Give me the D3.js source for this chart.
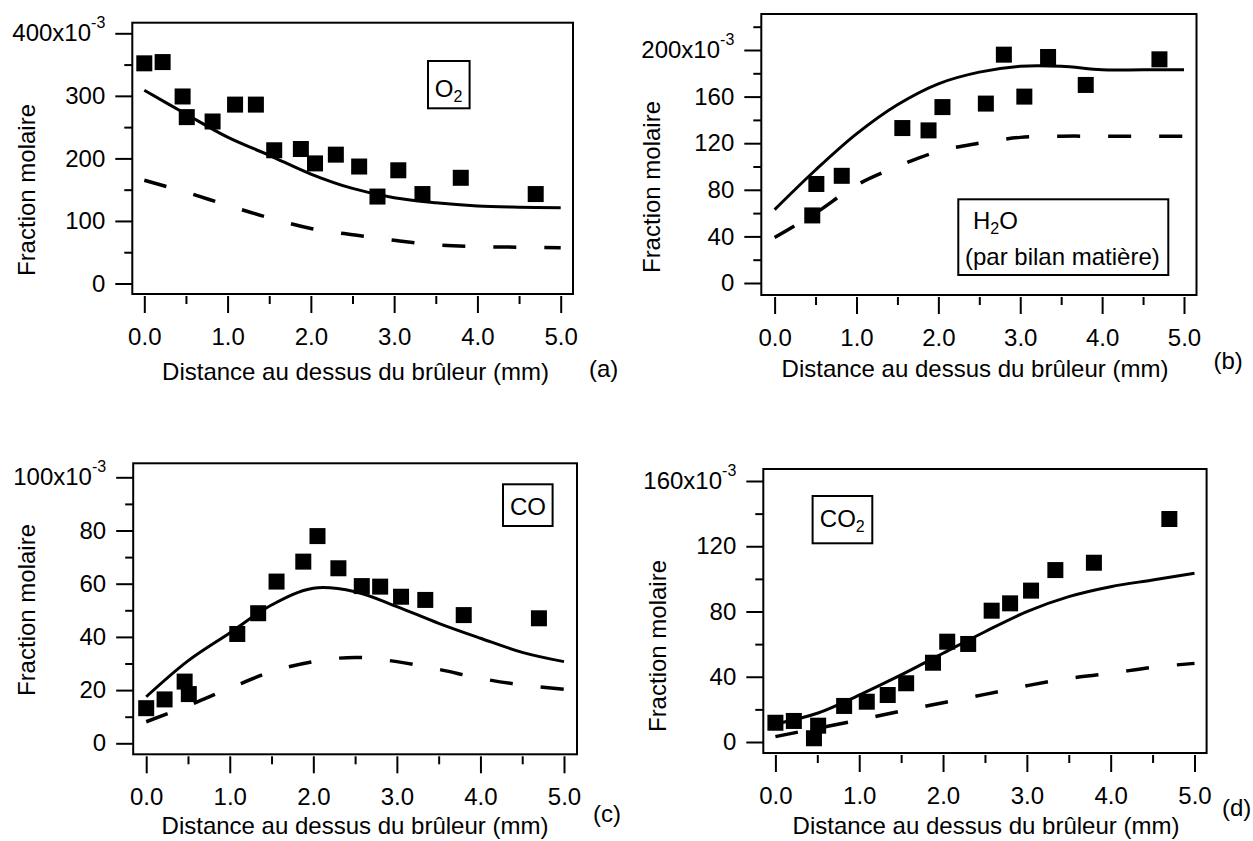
<!DOCTYPE html>
<html>
<head>
<meta charset="utf-8">
<script src="https://cdn.jsdelivr.net/npm/d3@7"></script>
<style>
  html, body { margin: 0; padding: 0; background: #fff; }
  svg text { font-family: "Liberation Sans", Arial, sans-serif; fill: #000; }
</style>
</head>
<body>
<div id="chart"></div>
<script>
// measured positions (mm above burner), shared by the four panels
const distance = [0, 0.22, 0.46, 0.51, 0.82, 1.09, 1.34, 1.56, 1.88, 2.05, 2.30, 2.58, 2.80, 3.05, 3.34, 3.80, 4.70];

// measured mole fractions (x10^-3), null = no point
const o2Measured  = [352, 354, 299, 266, 259, 286, 286, 213, 215, 192, 206, 187, 139, 181, 143, 169, 143];
const h2oMeasured = [null, null, 58, 85, 92, null, null, 133, 131, 151, null, 154, 196, 160, 194, 170, 192];
const coMeasured  = [13.2, 16.5, 23.2, 18.5, null, 41.1, 48.9, 60.8, 68.3, 77.9, 65.8, 59.1, 58.9, 55.1, 53.9, 48.2, 47.0];
const co2Measured = [11.8, 12.9, 2.3, 10.0, 22.1, 24.7, 28.8, 36.0, 48.6, 61.5, 60.1, 80.5, 85.0, 92.8, 105.4, 109.9, 136.7];

// model curves, read at these distances
const modelDistance = [0, 0.5, 1, 1.5, 2, 2.5, 3, 3.5, 4, 4.5, 5];
const o2Solid   = [309, 271, 234, 205, 175, 152, 137, 129, 124, 122, 121];
const o2Dashed  = [165, 146, 125, 105, 88, 78, 69, 62, 59, 58, 57];
const h2oSolid  = [63, 97, 128, 153, 171, 181, 186, 186, 183, 183, 183];
const h2oDashed = [39, 60, 84, 100, 113, 120, 125, 126, 126, 126, 126];
const coSolid   = [17.5, 31, 41.5, 52, 58.3, 57, 51.4, 45.1, 39.5, 34.2, 30.7];
const coDashed  = [8.1, 14.1, 20.7, 26.9, 30.7, 32.3, 30.7, 27.8, 24.4, 21.9, 20.3];
const co2Solid  = [11, 17.6, 28.8, 41.1, 54.4, 67.6, 79.9, 89.1, 95.2, 99.3, 103.4];
const co2Dashed = [3.3, 8.4, 13.5, 19, 24.1, 29.2, 34.5, 39, 42.1, 45.8, 48.2];

// axis ticks
const xTicks = [0, 1, 2, 3, 4, 5];
const xMinorTicks = [0.5, 1.5, 2.5, 3.5, 4.5];
const o2Ticks  = [0, 100, 200, 300, 400];
const h2oTicks = [0, 40, 80, 120, 160, 200];
const coTicks  = [0, 20, 40, 60, 80, 100];
const co2Ticks = [0, 40, 80, 120, 160];

const xTitle = "Distance au dessus du brûleur (mm)";
const yTitle = "Fraction molaire";

const width = 1253, height = 841;
const svg = d3.select("#chart").append("svg")
    .attr("width", width).attr("height", height);

const panels = [
  { frame: {l: 132.3, r: 573, t: 22.7, b: 294}, xr: [144.3, 560.7], yr: [283.5, 33.3], ymax: 400,
    ticks: o2Ticks, minor: 50, points: o2Measured, solid: o2Solid, dashed: o2Dashed,
    yTitlePos: [35, 190], xTitlePos: [355.5, 380], tag: ["(a)", 589, 377],
    legend: {x: 428, y: 61, w: 41.6, h: 47.3, lines: [[["O"], ["2", "sub"]]], tx: 434.8, ty: [96.7]} },
  { frame: {l: 761.3, r: 1196.5, t: 14, b: 295}, xr: [774.6, 1184], yr: [283, 50], ymax: 200,
    ticks: h2oTicks, minor: 20, points: h2oMeasured, solid: h2oSolid, dashed: h2oDashed,
    yTitlePos: [660, 187], xTitlePos: [975, 377], tag: ["(b)", 1213.5, 369],
    legend: {x: 958.3, y: 199.3, w: 210, h: 75.7,
      lines: [[["H"], ["2", "sub"], ["O"]], [["(par bilan matière)"]]], tx: [973, 965], ty: [229, 265]} },
  { frame: {l: 133.2, r: 577, t: 463.3, b: 754.3}, xr: [146.2, 564], yr: [743.3, 477.3], ymax: 100,
    ticks: coTicks, minor: 10, points: coMeasured, solid: coSolid, dashed: coDashed,
    yTitlePos: [35, 610], xTitlePos: [355, 834], tag: ["(c)", 593, 822],
    legend: {x: 503, y: 484.3, w: 49.6, h: 41.7, lines: [[["CO"]]], tx: 510, ty: [515]} },
  { frame: {l: 763.3, r: 1206.6, t: 469, b: 753}, xr: [775.4, 1194.5], yr: [742, 481], ymax: 160,
    ticks: co2Ticks, minor: 20, points: co2Measured, solid: co2Solid, dashed: co2Dashed,
    yTitlePos: [666, 646], xTitlePos: [986, 834], tag: ["(d)", 1222, 816],
    legend: {x: 812.6, y: 496, w: 59.7, h: 47.3, lines: [[["CO"], ["2", "sub"]]], tx: 819.8, ty: [526.7]} }
];

function drawPanel(p) {
  const g = svg.append("g");
  const x = d3.scaleLinear().domain([0, 5]).range(p.xr);
  const y = d3.scaleLinear().domain([0, p.ymax]).range(p.yr);

  // model curves
  const line = d3.line()
      .defined(d => d[1] != null)
      .curve(d3.curveCatmullRom)
      .x(d => x(d[0])).y(d => y(d[1]));
  g.append("path")
      .datum(modelDistance.map((d, i) => [d, p.dashed[i]]))
      .attr("d", line).attr("fill", "none").attr("stroke", "#000")
      .attr("stroke-width", 3.5).attr("stroke-dasharray", "23,28");
  g.append("path")
      .datum(modelDistance.map((d, i) => [d, p.solid[i]]))
      .attr("d", line).attr("fill", "none").attr("stroke", "#000")
      .attr("stroke-width", 3);

  // measured points
  const pts = distance.map((d, i) => [d, p.points[i]]).filter(d => d[1] != null);
  const s = 16;
  g.selectAll("rect.pt").data(pts).join("rect")
      .attr("class", "pt")
      .attr("x", d => x(d[0]) - s / 2).attr("y", d => y(d[1]) - s / 2)
      .attr("width", s).attr("height", s).attr("fill", "#000");

  // frame
  const f = p.frame;
  g.append("rect").attr("x", f.l).attr("y", f.t)
      .attr("width", f.r - f.l).attr("height", f.b - f.t)
      .attr("fill", "none").attr("stroke", "#000").attr("stroke-width", 2);

  // y axis
  const yMinor = d3.range(0, y.invert(f.t), p.minor).filter(v => !p.ticks.includes(v));
  const ya = g.append("g").attr("transform", `translate(${f.l},0)`)
      .call(d3.axisLeft(y).tickValues(p.ticks).tickSize(17).tickPadding(10).tickSizeOuter(0));
  g.append("g").attr("transform", `translate(${f.l},0)`)
      .call(d3.axisLeft(y).tickValues(yMinor).tickSize(8).tickFormat("").tickSizeOuter(0))
      .call(a => a.select(".domain").remove())
      .call(a => a.selectAll("line").attr("stroke-width", 2));
  ya.select(".domain").remove();
  ya.selectAll("line").attr("stroke-width", 2);
  ya.selectAll("text").attr("font-size", 24).attr("fill", "#000");
  ya.selectAll(".tick text").filter(d => d === p.ymax)
      .text(null)
      .call(t => {
        t.append("tspan").text(p.ymax + "x10");
        t.append("tspan").attr("font-size", 16).attr("dy", -13).text("-3");
      });

  // x axis, offset a little below the frame
  const xa = g.append("g").attr("transform", `translate(0,${f.b + 2})`)
      .call(d3.axisBottom(x).tickValues(xTicks).tickSize(17).tickPadding(15)
        .tickFormat(d3.format(".1f")).tickSizeOuter(0));
  g.append("g").attr("transform", `translate(0,${f.b + 2})`)
      .call(d3.axisBottom(x).tickValues(xMinorTicks).tickSize(8).tickFormat("").tickSizeOuter(0))
      .call(a => a.select(".domain").remove())
      .call(a => a.selectAll("line").attr("stroke-width", 2));
  xa.select(".domain").remove();
  xa.selectAll("line").attr("stroke-width", 2);
  xa.selectAll("text").attr("font-size", 24).attr("fill", "#000");

  // titles
  g.append("text")
      .attr("transform", `translate(${p.yTitlePos[0]},${p.yTitlePos[1]}) rotate(-90)`)
      .attr("text-anchor", "middle").attr("font-size", 24).text(yTitle);
  g.append("text").attr("x", p.xTitlePos[0]).attr("y", p.xTitlePos[1])
      .attr("text-anchor", "middle").attr("font-size", 24).text(xTitle);
  g.append("text").attr("x", p.tag[1]).attr("y", p.tag[2])
      .attr("font-size", 24).text(p.tag[0]);

  // legend box
  const L = p.legend;
  g.append("rect").attr("x", L.x).attr("y", L.y).attr("width", L.w).attr("height", L.h)
      .attr("fill", "#fff").attr("stroke", "#000").attr("stroke-width", 2);
  L.lines.forEach((parts, i) => {
    const tx = Array.isArray(L.tx) ? L.tx[i] : L.tx;
    const t = g.append("text").attr("x", tx).attr("y", L.ty[i]).attr("font-size", 24);
    let shifted = false;
    parts.forEach(([str, kind]) => {
      const sp = t.append("tspan").text(str);
      if (kind === "sub") { sp.attr("font-size", 16).attr("dy", 5); shifted = true; }
      else if (shifted) { sp.attr("dy", -5); shifted = false; }
    });
  });
}

panels.forEach(drawPanel);
</script>
</body>
</html>
